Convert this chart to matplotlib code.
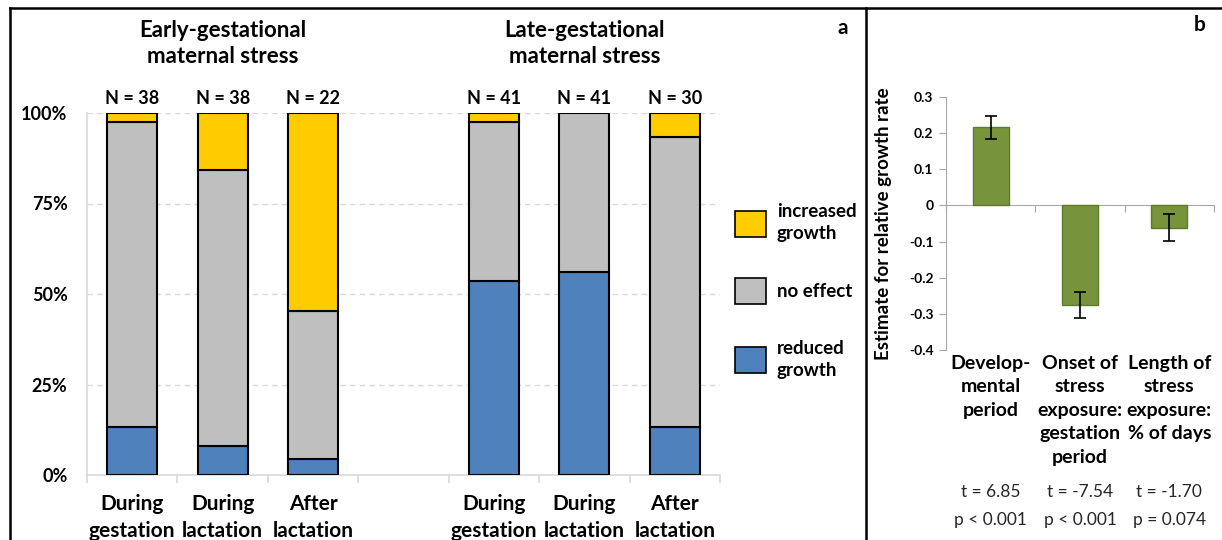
import matplotlib
matplotlib.use("Agg")
import matplotlib.pyplot as plt
from matplotlib.patches import Patch
from matplotlib.lines import Line2D
import matplotlib.transforms as mtransforms

plt.rcParams['font.family'] = ['Lato', 'DejaVu Sans']

# ---------------- data ----------------
# panel a: stacked percentages (positions 0..6, slot 3 is an empty gap)
a_positions = [0, 1, 2, 4, 5, 6]
a_labels = ["During\ngestation", "During\nlactation", "After\nlactation",
            "During\ngestation", "During\nlactation", "After\nlactation"]
a_n = [38, 38, 22, 41, 41, 30]
reduced_pct = [13.2, 7.9, 4.5, 53.7, 56.1, 13.3]
noeffect_pct = [84.2, 76.3, 40.9, 43.9, 43.9, 80.0]
increased_pct = [2.6, 15.8, 54.5, 2.4, 0.0, 6.7]
group_titles = ["Early-gestational\nmaternal stress", "Late-gestational\nmaternal stress"]
group_title_pos = [1, 5]

# panel b: estimates with standard errors
b_labels = ["Develop-\nmental\nperiod",
            "Onset of\nstress\nexposure:\ngestation\nperiod",
            "Length of\nstress\nexposure:\n% of days"]
b_est = [0.216, -0.275, -0.062]
b_err = [0.032, 0.036, 0.037]
b_stats = ["t = 6.85\np < 0.001", "t = -7.54\np < 0.001", "t = -1.70\np = 0.074"]

C_RED = "#4F81BD"
C_NO = "#BFBFBF"
C_INC = "#FFCC00"
C_GREEN = "#77933C"
GRID = "#D9D9D9"

W, H = 1222, 540
fig = plt.figure(figsize=(W / 100, H / 100), dpi=100)

def fx(px):
    return px / W

def fy(py):
    return 1 - py / H

# ---------------- panel a ----------------
axa = fig.add_axes([fx(87), fy(475), fx(720) - fx(87), fy(113) - fy(475)])
bw = 0.55
ekw = dict(edgecolor="black", linewidth=1.5, width=bw, zorder=3)
axa.bar(a_positions, reduced_pct, color=C_RED, **ekw)
axa.bar(a_positions, noeffect_pct, bottom=reduced_pct, color=C_NO, **ekw)
bot2 = [r + n for r, n in zip(reduced_pct, noeffect_pct)]
inc_pos = [p for p, v in zip(a_positions, increased_pct) if v > 0]
inc_val = [v for v in increased_pct if v > 0]
inc_bot = [b for b, v in zip(bot2, increased_pct) if v > 0]
axa.bar(inc_pos, inc_val, bottom=inc_bot, color=C_INC, **ekw)

axa.set_xlim(-0.5, 6.5)
axa.set_ylim(0, 100)
axa.set_yticks([0, 25, 50, 75, 100])
axa.set_yticklabels(["0%", "25%", "50%", "75%", "100%"], fontweight="bold", fontsize=13)
axa.yaxis.grid(True, color=GRID, linestyle=(0, (4, 3)), linewidth=1, zorder=0)
axa.set_axisbelow(True)
axa.tick_params(axis="y", length=0, pad=14)
axa.set_xticks(a_positions)
axa.set_xticklabels(a_labels, fontweight="bold", fontsize=15, linespacing=1.4)
axa.tick_params(axis="x", length=0, pad=14)
axa.set_xticks([x + 0.5 for x in range(-1, 7)], minor=True)
axa.tick_params(axis="x", which="minor", length=6, color=GRID, width=1.2)
for s in ["top", "right"]:
    axa.spines[s].set_visible(False)
for s in ["left", "bottom"]:
    axa.spines[s].set_color(GRID)
    axa.spines[s].set_linewidth(1.2)
axa.set_facecolor("none")

for p, n in zip(a_positions, a_n):
    axa.annotate(f"N = {n}", xy=(p, 100), xytext=(0, 4), textcoords="offset points",
                 ha="center", va="bottom", fontweight="bold", fontsize=13)
for t, p in zip(group_titles, group_title_pos):
    axa.annotate(t, xy=(p, 100), xytext=(0, 33), textcoords="offset points",
                 ha="center", va="bottom", fontweight="bold", fontsize=16, linespacing=1.3)

handles = [Patch(facecolor=C_INC, edgecolor="black", linewidth=1.2),
           Patch(facecolor=C_NO, edgecolor="black", linewidth=1.2),
           Patch(facecolor=C_RED, edgecolor="black", linewidth=1.2)]
leg = fig.legend(handles, ["increased\ngrowth", "no effect", "reduced\ngrowth"],
                 loc="center left", bbox_to_anchor=(fx(726), fy(291)),
                 frameon=False, fontsize=13.5, handlelength=1.65, handleheight=1.75,
                 labelspacing=1.9, handletextpad=0.55, borderpad=0)
for t in leg.get_texts():
    t.set_fontweight("bold")
    t.set_linespacing(1.4)

# ---------------- panel b ----------------
axb = fig.add_axes([fx(946), fy(350), fx(1214) - fx(946), fy(97) - fy(350)])
xb = list(range(len(b_est)))
axb.bar(xb, b_est, width=0.4, color=C_GREEN, edgecolor="#5E7A2C", linewidth=1, zorder=3)
axb.errorbar(xb, b_est, yerr=b_err, fmt="none", ecolor="black", elinewidth=1.2,
             capsize=4, capthick=1.2, zorder=4)
axb.set_xlim(-0.5, 2.5)
axb.set_ylim(-0.4, 0.3)
yt = [0.3, 0.2, 0.1, 0, -0.1, -0.2, -0.3, -0.4]
axb.set_yticks(yt)
axb.set_yticklabels(["0.3", "0.2", "0.1", "0", "-0.1", "-0.2", "-0.3", "-0.4"],
                    fontweight="bold", fontsize=10)
axb.tick_params(axis="y", length=5, color="#A6A6A6", pad=4)
for s in ["top", "right"]:
    axb.spines[s].set_visible(False)
axb.spines["left"].set_color("#A6A6A6")
axb.spines["bottom"].set_position(("data", 0))
axb.spines["bottom"].set_color("#A6A6A6")
axb.set_xticks([x + 0.5 for x in range(-1, 3)])
axb.set_xticklabels([])
axb.tick_params(axis="x", length=5, color="#A6A6A6", direction="out")
axb.set_ylabel("Estimate for relative growth rate", fontweight="bold", fontsize=13.5)
axb.yaxis.set_label_coords(-0.20, 0.5)

trans = mtransforms.blended_transform_factory(axb.transData, axb.transAxes)
for x, lab, st in zip(xb, b_labels, b_stats):
    axb.text(x, -0.02, lab, transform=trans, ha="center", va="top",
             fontweight="bold", fontsize=14, linespacing=1.46)
    axb.text(x, -0.53, st, transform=trans, ha="center", va="top",
             fontsize=12.5, linespacing=1.9, color="#262626")

# ---------------- frame and panel letters ----------------
fr = dict(color="black", linewidth=1.8, transform=fig.transFigure)
fig.add_artist(Line2D([fx(10), 1], [fy(8), fy(8)], **fr))
fig.add_artist(Line2D([fx(10), fx(10)], [fy(8), 0], **fr))
fig.add_artist(Line2D([fx(866), fx(866)], [fy(8), 0], **fr))
fig.text(fx(843), fy(28), "a", fontweight="bold", fontsize=15, ha="center", va="center")
fig.text(fx(1200), fy(25), "b", fontweight="bold", fontsize=15, ha="center", va="center")

fig.savefig("out.png", dpi=100)
